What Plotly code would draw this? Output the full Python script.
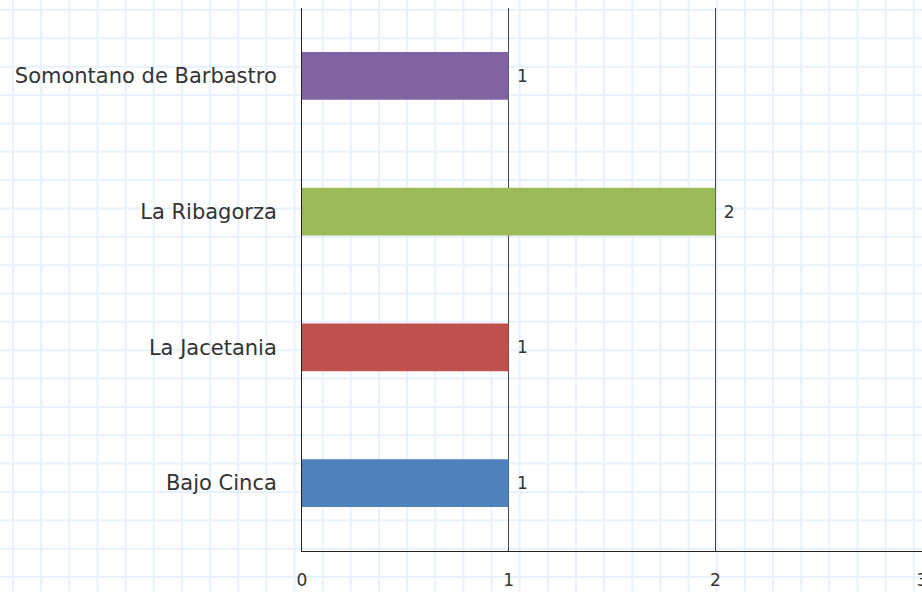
import plotly.graph_objects as go

categories = ["Bajo Cinca", "La Jacetania", "La Ribagorza", "Somontano de Barbastro"]
values = [1, 1, 2, 1]
bar_colors = ["#4F81BD", "#C0504D", "#9BBB59", "#8064A2"]
x_ticks = [0, 1, 2, 3]

W, H = 922, 592
L, R, T, B = 302, 0, 8, 41
PW, PH = W - L - R, H - T - B

fig = go.Figure(
    go.Bar(
        x=values,
        y=categories,
        orientation="h",
        marker=dict(color=bar_colors, line=dict(width=0)),
        width=0.35,
        texttemplate="\u00a0%{x}",
        textposition="outside",
        textfont=dict(size=17, color="#333333"),
        cliponaxis=False,
        hoverinfo="skip",
    )
)

# graph-paper background
shapes = []
grid_col = "rgb(231,242,252)"
x = 13.0
while x < W + 5:
    shapes.append(dict(type="line", xref="paper", yref="paper",
                       x0=(x - L) / PW, x1=(x - L) / PW,
                       y0=(H - B - (-5)) / PH, y1=(H - B - (H + 5)) / PH,
                       line=dict(color=grid_col, width=2), layer="below"))
    x += 28.15
y = 10.0
while y < H + 5:
    shapes.append(dict(type="line", xref="paper", yref="paper",
                       x0=(-5 - L) / PW, x1=(W + 5 - L) / PW,
                       y0=(H - B - y) / PH, y1=(H - B - y) / PH,
                       line=dict(color=grid_col, width=2), layer="below"))
    y += 28.35

font_family = "Segoe Print, DejaVu Sans, sans-serif"

fig.update_layout(
    width=W, height=H,
    margin=dict(l=L, r=R, t=T, b=B, pad=0, autoexpand=False),
    paper_bgcolor="white",
    plot_bgcolor="rgba(0,0,0,0)",
    showlegend=False,
    shapes=shapes,
    font=dict(family=font_family, color="#333333", size=16),
    bargap=0.65,
    xaxis=dict(
        range=[0, 3],
        tickvals=x_ticks,
        ticktext=[str(t) for t in x_ticks],
        showgrid=True, gridcolor="#444444", gridwidth=1,
        zeroline=False,
        showline=True, linecolor="#222222", linewidth=1,
        ticks="outside", ticklen=14, tickcolor="rgba(0,0,0,0)",
        tickfont=dict(size=17, color="#333333"),
        ticklabeloverflow="allow",
        automargin=False,
    ),
    yaxis=dict(
        categoryorder="array", categoryarray=categories,
        showgrid=False, zeroline=False,
        showline=True, linecolor="#222222", linewidth=1,
        ticks="outside", ticklen=20, tickcolor="rgba(0,0,0,0)",
        tickfont=dict(size=21, color="#333333"),
        automargin=False,
    ),
)

fig.write_html(
    "out.html",
    config={"displayModeBar": False},
    post_script="document.body.style.margin='0';document.body.style.overflow='hidden';",
)
